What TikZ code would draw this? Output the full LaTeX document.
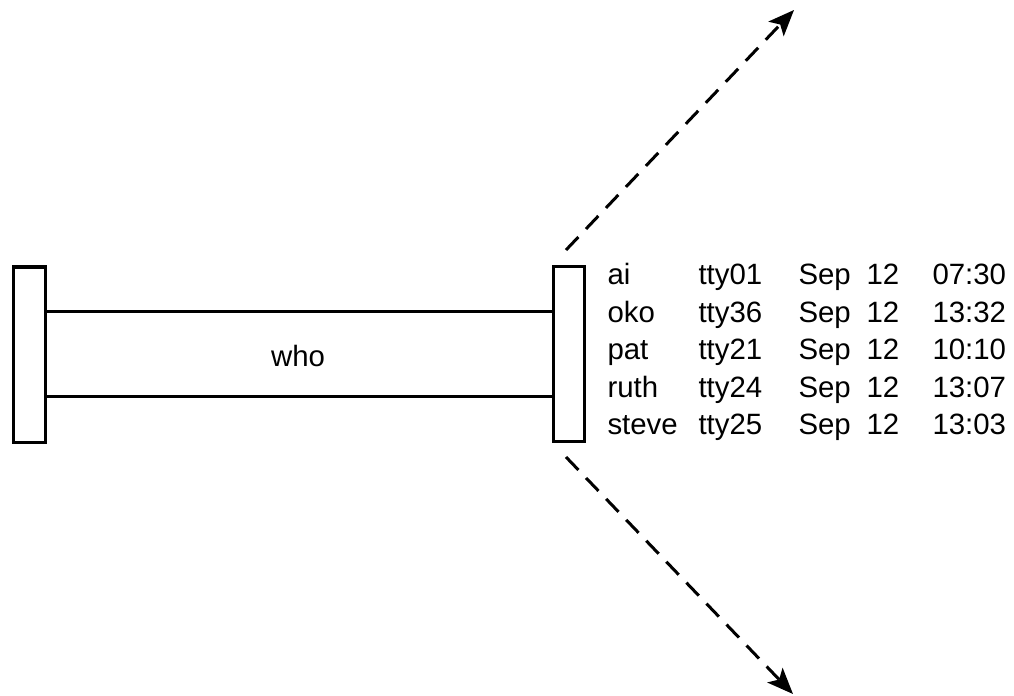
\documentclass[tikz,border=0pt]{standalone}
\usepackage{fontspec}
\setmainfont{Liberation Sans}
\usetikzlibrary{arrows.meta}
\begin{document}
\begin{tikzpicture}[x=1bp,y=-1bp,line width=3bp,
  bar/.style={draw,inner sep=0pt,minimum width=31bp,minimum height=175bp},
  cell/.style={anchor=base west,inner sep=0pt,font=\fontsize{29.5}{33}\selectfont},
  flow/.style={dashed,dash pattern=on 18bp off 11bp,-{Stealth[length=26bp,width=21bp,inset=6bp]}}]
\useasboundingbox (0,0) rectangle (1014,696);
\node[bar] (lrect) at (29.5,354.5) {};
\node[bar] (rrect) at (569,354) {};
\coordinate (ptop) at (300,311);
\coordinate (pbot) at (300,396);
\draw (lrect.east |- ptop) -- (rrect.west |- ptop);
\draw (lrect.east |- pbot) -- (rrect.west |- pbot);
\node[cell,anchor=base] (who) at (298,366) {who};
\coordinate (u0) at (566,250);
\coordinate (u1) at (794,10);
\coordinate (d0) at (566,457);
\coordinate (d1) at (793,694);
\draw[flow] (u0) -- (u1);
\draw[flow] (d0) -- (d1);
\foreach \n/\t/\h [count=\i from 0] in {ai/tty01/07:30,oko/tty36/13:32,pat/tty21/10:10,ruth/tty24/13:07,steve/tty25/13:03}{
  \node[cell] (name\i) at (606,284.5+37.5*\i) {\n};
  \node[cell] (tty\i) at (697,284.5+37.5*\i) {\t};
  \node[cell] (mon\i) at (797,284.5+37.5*\i) {Sep};
  \node[cell] (day\i) at (865,284.5+37.5*\i) {12};
  \node[cell] (time\i) at (931,284.5+37.5*\i) {\h};
}
\end{tikzpicture}
\end{document}
